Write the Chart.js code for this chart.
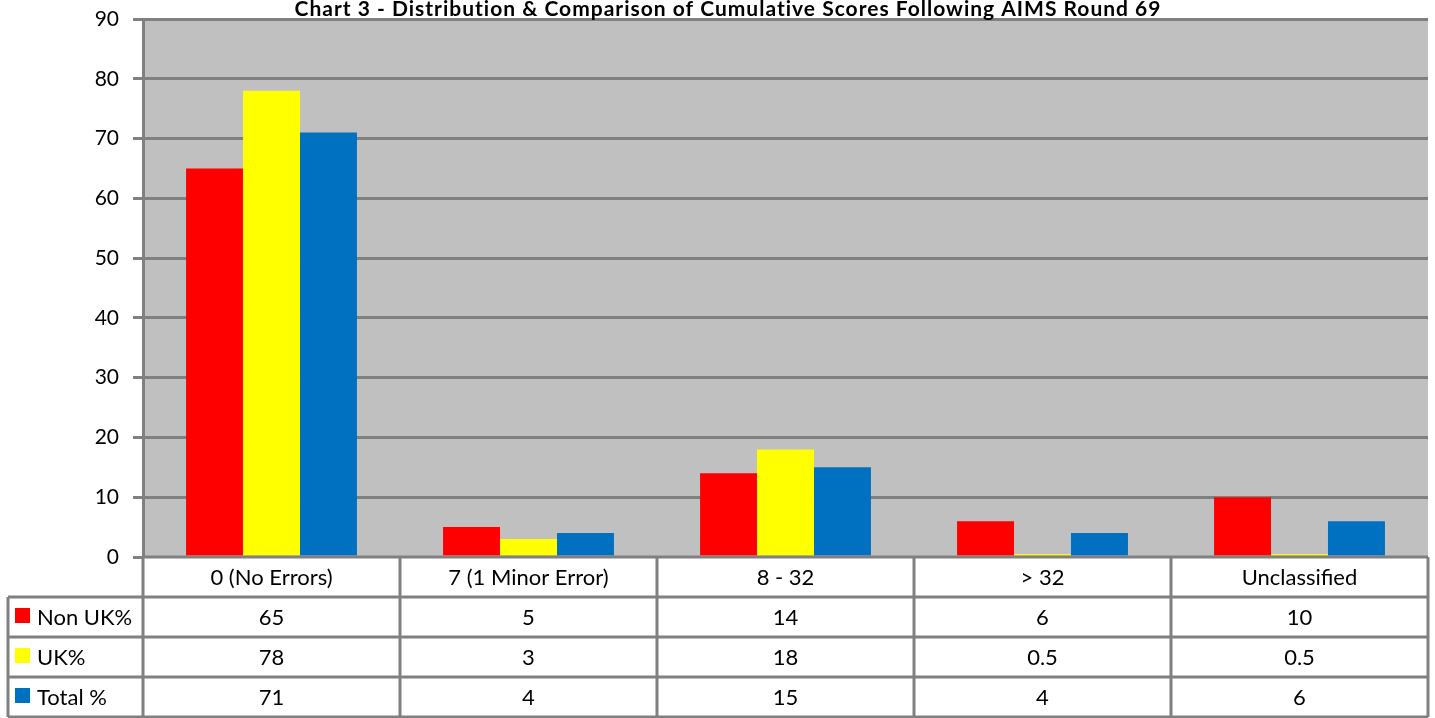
<!DOCTYPE html>
<html lang="en">
<head>
    <meta charset="UTF-8">
    <title>Chart 3 - Distribution & Comparison of Cumulative Scores</title>
    <script src="https://cdn.jsdelivr.net/npm/chart.js"></script>
    <style>
        body {
            margin: 0;
            background: #fff;
        }
        canvas {
            display: block;
        }
    </style>
</head>
<body>
    <canvas id="scoresChart" width="1435" height="718"></canvas>

    <script>
        let categories = ["0 (No Errors)", "7 (1 Minor Error)", "8 - 32", "> 32", "Unclassified"];
        let nonUkData = [65, 5, 14, 6, 10];
        let ukData = [78, 3, 18, 0.5, 0.5];
        let totalData = [71, 4, 15, 4, 6];
        let seriesNames = ["Non UK%", "UK%", "Total %"];
        let seriesColors = ["#FF0000", "#FFFF00", "#0070C0"];
        let yTicks = [0, 10, 20, 30, 40, 50, 60, 70, 80, 90];
        let chartTitle = "Chart 3 - Distribution & Comparison of Cumulative Scores Following AIMS Round 69";

        const FONT = "Lato, 'Open Sans', sans-serif";
        const LINE = "#808080";
        const ROW_H = 40;

        // grey plot area, drawn before the grid lines
        const plotBackground = {
            id: "plotBackground",
            beforeDraw(chart) {
                const a = chart.chartArea;
                const ctx = chart.ctx;
                ctx.save();
                ctx.fillStyle = "#C0C0C0";
                ctx.fillRect(a.left, a.top, a.right - a.left, a.bottom - a.top);
                ctx.restore();
            }
        };

        // excel style data table under the plot + title on top
        const dataTable = {
            id: "dataTable",
            afterDraw(chart) {
                const ctx = chart.ctx;
                const a = chart.chartArea;
                const xs = chart.scales.x;
                const half = (a.right - a.left) / categories.length / 2;
                const top = a.bottom;
                const legendLeft = 8;
                const rows = [nonUkData, ukData, totalData];

                ctx.save();
                ctx.fillStyle = "#fff";
                ctx.fillRect(a.left, top, a.right - a.left, ROW_H * 4);
                ctx.fillRect(legendLeft, top + ROW_H, a.left - legendLeft, ROW_H * 3);

                ctx.fillStyle = "#000";
                ctx.font = "22px " + FONT;
                ctx.textAlign = "center";
                ctx.textBaseline = "middle";
                categories.forEach((c, i) => {
                    const cx = xs.getPixelForValue(i);
                    ctx.fillText(c, cx, top + ROW_H / 2 + 1);
                    rows.forEach((r, j) => {
                        ctx.fillText(String(r[i]), cx, top + ROW_H * (j + 1.5) + 1);
                    });
                });

                // legend keys
                ctx.textAlign = "left";
                seriesNames.forEach((name, j) => {
                    const cy = top + ROW_H * (j + 1.5);
                    ctx.fillStyle = seriesColors[j];
                    ctx.fillRect(15, cy - 9, 15, 15);
                    ctx.fillStyle = "#000";
                    ctx.fillText(name, 37, cy + 1);
                });

                // grid lines of the table
                ctx.strokeStyle = LINE;
                ctx.lineWidth = 3;
                ctx.beginPath();
                ctx.moveTo(a.left, top);
                ctx.lineTo(a.right, top);
                for (let j = 1; j <= 4; j++) {
                    ctx.moveTo(legendLeft, top + ROW_H * j);
                    ctx.lineTo(a.right, top + ROW_H * j);
                }
                ctx.moveTo(legendLeft, top + ROW_H);
                ctx.lineTo(legendLeft, top + ROW_H * 4);
                for (let i = 0; i <= categories.length; i++) {
                    const x = i < categories.length ? xs.getPixelForValue(i) - half : xs.getPixelForValue(i - 1) + half;
                    ctx.moveTo(x, top);
                    ctx.lineTo(x, top + ROW_H * 4);
                }
                ctx.stroke();

                ctx.fillStyle = "#000";
                ctx.font = "bold 21px " + FONT;
                ctx.letterSpacing = "1px";
                ctx.textAlign = "center";
                ctx.textBaseline = "alphabetic";
                ctx.fillText(chartTitle, 728, 16);
                ctx.restore();
            }
        };

        const datasets = [nonUkData, ukData, totalData].map((d, j) => ({
            label: seriesNames[j],
            data: d,
            backgroundColor: seriesColors[j],
            borderWidth: 0,
            categoryPercentage: 0.665,
            barPercentage: 1.0
        }));

        new Chart(document.getElementById("scoresChart"), {
            type: "bar",
            data: {
                labels: categories,
                datasets: datasets
            },
            options: {
                responsive: false,
                animation: false,
                layout: {
                    padding: { top: 19, right: 7, bottom: 161, left: 0 }
                },
                plugins: {
                    legend: { display: false },
                    title: { display: false },
                    tooltip: { enabled: false }
                },
                scales: {
                    x: {
                        display: false
                    },
                    y: {
                        min: 0,
                        max: 90,
                        afterFit(scale) {
                            scale.width = 143;
                            scale.paddingTop = 0;
                            scale.paddingBottom = 0;
                        },
                        afterBuildTicks(scale) {
                            scale.ticks = yTicks.map(v => ({ value: v }));
                        },
                        ticks: {
                            color: "#000",
                            padding: 14,
                            font: { family: FONT, size: 21 }
                        },
                        grid: {
                            color: LINE,
                            lineWidth: 3,
                            tickLength: 10
                        },
                        border: {
                            color: LINE,
                            width: 3
                        }
                    }
                }
            },
            plugins: [plotBackground, dataTable]
        });
    </script>
</body>
</html>
